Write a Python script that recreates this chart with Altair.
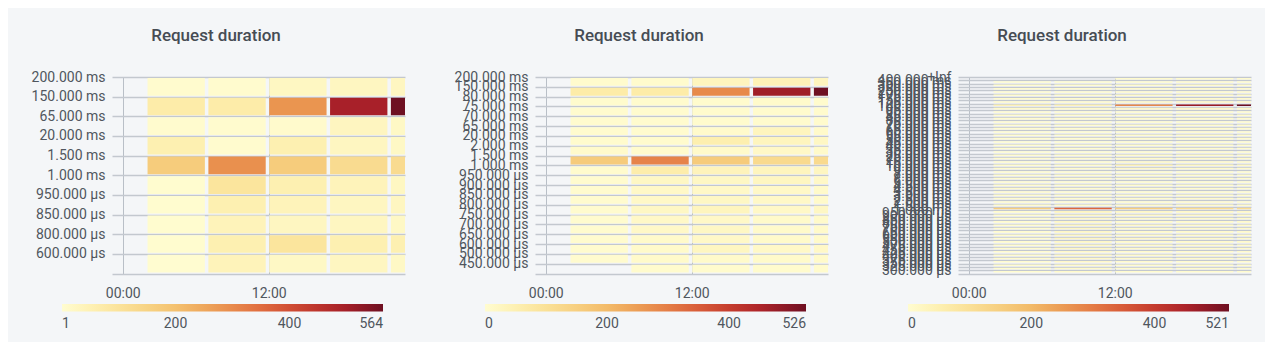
import json
import altair as alt
import pandas as pd

# ---------------- data ----------------
BUCKET_START_H = [2, 7, 12, 17, 22]   # hour of day at which each 5h bucket starts
BUCKET_LEN_H = 5
X_DOMAIN = [-0.88, 23.2]
X_TICKS = [0, 12]
X_TICK_LABELS = ["00:00", "12:00"]

P1_LABELS = ["200.000 ms", "150.000 ms", "65.000 ms", "20.000 ms", "1.500 ms",
             "1.000 ms", "950.000 µs", "850.000 µs", "800.000 µs", "600.000 µs"]
P1_VALUES = [
    [5, 5, 25, 28, 28],
    [70, 70, 282, 495, 564],
    [5, 5, 8, 30, 20],
    [55, 5, 55, 28, 20],
    [170, 290, 170, 125, 125],
    [3, 95, 55, 40, 25],
    [3, 55, 40, 28, 28],
    [3, 40, 28, 28, 20],
    [3, 55, 95, 55, 55],
    [1, 40, 20, 28, 20],
]
P1_RANGE = [1, 564]
P1_LEGEND = [1, 200, 400, 564]

P2_LABELS = ["200.000 ms", "150.000 ms", "80.000 ms", "75.000 ms", "70.000 ms",
             "65.000 ms", "20.000 ms", "2.000 ms", "1.500 ms", "1.000 ms",
             "950.000 µs", "900.000 µs", "850.000 µs", "800.000 µs", "750.000 µs",
             "700.000 µs", "650.000 µs", "600.000 µs", "500.000 µs", "450.000 µs"]
P2_VALUES = [
    [5, 5, 30, 40, 30],
    [65, 65, 280, 470, 526],
    [5, 5, 5, 8, 5],
    [3, 3, 5, 5, 5],
    [3, 3, 5, 5, 5],
    [3, 3, 8, 30, 10],
    [5, 5, 55, 30, 20],
    [8, 5, 10, 15, 10],
    [160, 290, 160, 120, 120],
    [5, 60, 35, 30, 25],
    [3, 20, 20, 25, 15],
    [3, 15, 15, 15, 10],
    [3, 15, 20, 15, 10],
    [3, 20, 30, 15, 20],
    [3, 15, 15, 10, 10],
    [3, 15, 20, 10, 10],
    [3, 10, 15, 10, 10],
    [3, 10, 25, 15, 15],
    [3, 10, 10, 10, 10],
    [0, 5, 5, 5, 5],
]
P2_RANGE = [0, 526]
P2_LEGEND = [0, 200, 400, 526]

P3_LABELS = ["+Inf", "400.000 ms", "350.000 ms", "300.000 ms", "250.000 ms",
             "200.000 ms", "175.000 ms", "150.000 ms", "125.000 ms", "100.000 ms",
             "95.000 ms", "90.000 ms", "85.000 ms", "80.000 ms", "75.000 ms",
             "70.000 ms", "65.000 ms", "60.000 ms", "55.000 ms", "50.000 ms",
             "45.000 ms", "40.000 ms", "35.000 ms", "30.000 ms", "25.000 ms",
             "20.000 ms", "15.000 ms", "10.000 ms", "9.000 ms", "8.000 ms",
             "7.000 ms", "6.000 ms", "5.000 ms", "4.500 ms", "4.000 ms",
             "3.500 ms", "3.000 ms", "2.500 ms", "2.000 ms", "1.500 ms",
             "1.000 ms", "950.000 µs", "900.000 µs", "850.000 µs", "800.000 µs",
             "750.000 µs", "700.000 µs", "650.000 µs", "600.000 µs", "550.000 µs",
             "500.000 µs", "475.000 µs", "450.000 µs", "425.000 µs", "400.000 µs",
             "375.000 µs", "350.000 µs", "325.000 µs", "300.000 µs"]
P3_VALUES = [
    [0, 0, 3, 3, 3],
    [2, 2, 5, 8, 5],
    [2, 2, 5, 8, 5],
    [3, 3, 8, 10, 8],
    [3, 3, 8, 10, 8],
    [3, 3, 10, 12, 10],
    [5, 5, 10, 10, 10],
    [10, 10, 20, 20, 15],
    [40, 40, 280, 470, 521],
    [10, 10, 15, 15, 10],
    [3, 3, 5, 5, 5],
    [3, 3, 5, 5, 5],
    [3, 3, 5, 5, 5],
    [3, 3, 5, 5, 5],
    [2, 2, 5, 5, 5],
    [2, 2, 5, 5, 5],
    [2, 2, 5, 8, 5],
    [2, 2, 5, 8, 5],
    [2, 2, 5, 5, 5],
    [2, 2, 5, 5, 5],
    [2, 2, 5, 5, 5],
    [2, 2, 5, 5, 5],
    [2, 2, 5, 8, 5],
    [3, 3, 8, 10, 8],
    [3, 3, 10, 10, 8],
    [5, 5, 20, 15, 10],
    [5, 5, 40, 20, 15],
    [5, 5, 15, 10, 10],
    [3, 3, 5, 5, 5],
    [3, 3, 5, 5, 5],
    [3, 3, 5, 5, 5],
    [3, 3, 5, 5, 5],
    [5, 3, 5, 5, 5],
    [8, 3, 5, 5, 5],
    [8, 3, 5, 5, 5],
    [5, 3, 5, 5, 5],
    [3, 3, 5, 8, 5],
    [3, 3, 5, 8, 5],
    [5, 5, 10, 10, 8],
    [150, 330, 150, 110, 110],
    [5, 30, 20, 15, 15],
    [3, 20, 15, 15, 10],
    [3, 15, 10, 10, 10],
    [3, 20, 10, 10, 10],
    [3, 25, 15, 10, 10],
    [3, 20, 10, 10, 10],
    [3, 20, 10, 10, 10],
    [3, 20, 10, 10, 10],
    [3, 25, 15, 10, 10],
    [3, 20, 10, 10, 10],
    [3, 20, 10, 8, 8],
    [3, 20, 10, 8, 8],
    [3, 15, 10, 8, 8],
    [3, 15, 8, 8, 8],
    [3, 15, 8, 8, 8],
    [3, 15, 8, 5, 5],
    [3, 10, 5, 5, 5],
    [2, 10, 5, 5, 5],
    [2, 10, 5, 5, 5],
]
P3_RANGE = [0, 521]
P3_LEGEND = [0, 200, 400, 521]

TITLE = "Request duration"

# ---------------- style ----------------
FONT = "Roboto"
TEXT_COLOR = "#50565e"
TITLE_COLOR = "#464c54"
GRID_COLOR = "#c3c8cf"
BG = "#f4f6f8"
PLOT_W = 293
PLOT_H = 196.5
# muted yellow-orange-red colour ramp (light yellow -> dark red)
RAMP = ["#fffcd0", "#fdeca8", "#f8d688", "#f3bd6a", "#ea9550",
        "#e06a3e", "#c8402f", "#a92029", "#6e1022"]


def panel(labels, values, crange, legend_vals, cell_pad):
    n = len(labels)
    recs = []
    for i, rowvals in enumerate(values):
        for j, v in enumerate(rowvals):
            if v > 0:
                recs.append({"row": i, "row2": i + 1,
                             "t": BUCKET_START_H[j],
                             "t2": BUCKET_START_H[j] + BUCKET_LEN_H,
                             "count": v})
    df = pd.DataFrame(recs)
    lo, hi = crange
    k = len(RAMP) - 1
    stops = [lo + (hi - lo) * s / k for s in range(k + 1)]
    lab_js = json.dumps(labels, ensure_ascii=False)
    xlab_js = json.dumps(dict(zip([str(v) for v in X_TICKS], X_TICK_LABELS)))
    return (
        alt.Chart(df, title=alt.TitleParams(
            TITLE, font=FONT, fontSize=17, fontWeight=500, color=TITLE_COLOR,
            anchor="middle", offset=25, frame="bounds"))
        .mark_rect(clip=True, xOffset=0.5, x2Offset=-3,
                   yOffset=cell_pad, y2Offset=-cell_pad)
        .encode(
            x=alt.X("t:Q",
                    scale=alt.Scale(domain=X_DOMAIN, nice=False, zero=False),
                    axis=alt.Axis(values=X_TICKS,
                                  labelExpr=f"{xlab_js}[''+datum.value]",
                                  title=None, ticks=False, domain=False,
                                  labelPadding=13, labelFlush=False,
                                  labelOverlap=False, grid=True,
                                  gridColor="#b9bfc7", gridWidth=1)),
            x2="t2:Q",
            y=alt.Y("row:Q",
                    scale=alt.Scale(domain=[0, n], reverse=True, nice=False, zero=False),
                    axis=alt.Axis(values=list(range(n + 1)),
                                  labelExpr=f"datum.value < {n} ? {lab_js}[datum.value] : ''",
                                  title=None, ticks=False, domain=False,
                                  labelPadding=7, labelOverlap=False,
                                  labelFlush=False, minExtent=85,
                                  grid=True, gridColor=GRID_COLOR, gridWidth=1.3)),
            y2="row2:Q",
            color=alt.Color("count:Q",
                            scale=alt.Scale(domain=stops, range=RAMP, interpolate="rgb"),
                            legend=alt.Legend(orient="none", legendX=-50, legendY=227,
                                              direction="horizontal",
                                              gradientLength=321,
                                              gradientThickness=7.5,
                                              gradientStrokeWidth=0,
                                              values=legend_vals, title=None,
                                              labelFont=FONT, labelFontSize=14,
                                              labelColor=TEXT_COLOR, labelOffset=5,
                                              labelAlign="center", labelOverlap=False,
                                              padding=0)),
        )
        .properties(width=PLOT_W, height=PLOT_H)
    )


c1 = panel(P1_LABELS, P1_VALUES, P1_RANGE, P1_LEGEND, 1.0)
c2 = panel(P2_LABELS, P2_VALUES, P2_RANGE, P2_LEGEND, 1.0)
c3 = panel(P3_LABELS, P3_VALUES, P3_RANGE, P3_LEGEND, 0.9)

chart = (
    alt.hconcat(c1, c2, c3, spacing=45)
    .resolve_scale(color="independent", x="independent", y="independent")
    .resolve_legend(color="independent")
    .configure(background=BG, padding={"left": 19, "top": 19, "right": 14, "bottom": 10})
    .configure_view(stroke=None)
    .configure_axis(labelFont=FONT, labelFontSize=14, labelColor=TEXT_COLOR)
)

chart.save("out.html", embed_options={"renderer": "svg", "actions": False})
